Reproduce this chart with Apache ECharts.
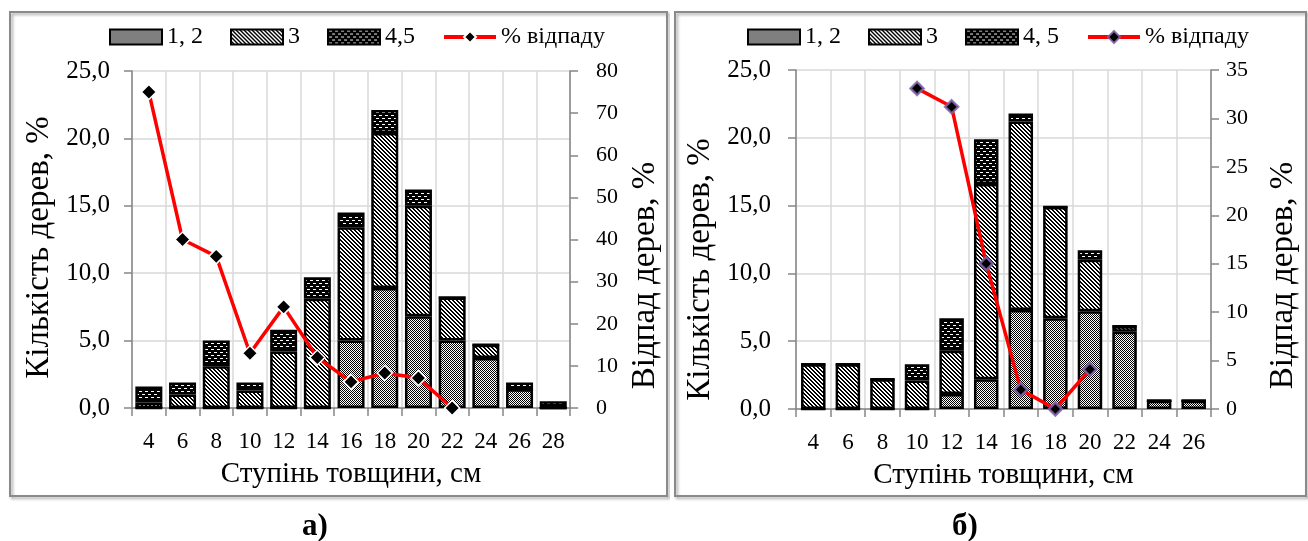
<!DOCTYPE html>
<html>
<head>
<meta charset="utf-8">
<script src="https://cdn.jsdelivr.net/npm/echarts@6/dist/echarts.min.js"></script>
<style>
  html, body { margin: 0; padding: 0; background: #fff; width: 1308px; height: 541px; overflow: hidden; }
  #chartA { position: absolute; left: 0; top: 0; width: 670px; height: 541px; }
  #chartB { position: absolute; left: 670px; top: 0; width: 638px; height: 541px; }
</style>
</head>
<body>
<div id="chartA"></div>
<div id="chartB"></div>
<script>
// а) ступені товщини 4..28
const catsA = ['4', '6', '8', '10', '12', '14', '16', '18', '20', '22', '24', '26', '28'];
const a12 = [0, 0, 0, 0, 0, 0, 5.0, 8.9, 6.8, 5.0, 3.7, 1.4, 0];
const a3 = [0.4, 1.0, 3.1, 1.3, 4.2, 8.1, 8.4, 11.5, 8.2, 3.2, 1.0, 0, 0];
const a45 = [1.2, 0.9, 1.9, 0.6, 1.6, 1.6, 1.1, 1.7, 1.2, 0, 0, 0.5, 0.5];
const aLoss = [75, 40, 36, 13, 24, 12, 6.2, 8.3, 7.1, 0, '-', '-', '-'];

// б) ступені товщини 4..26
const catsB = ['4', '6', '8', '10', '12', '14', '16', '18', '20', '22', '24', '26'];
const b12 = [0, 0, 0, 0, 1.1, 2.2, 7.3, 6.7, 7.2, 5.7, 0.6, 0.6];
const b3 = [3.3, 3.3, 2.2, 2.1, 3.2, 14.4, 13.9, 8.2, 3.8, 0.4, 0, 0];
const b45 = [0, 0, 0, 1.2, 2.4, 3.3, 0.6, 0, 0.7, 0, 0, 0];
const bLoss = ['-', '-', '-', 33.1, 31.2, 15.0, 2.0, 0, 4.1, '-', '-', '-'];

const FONT = '"Liberation Serif", "Times New Roman", serif';

function pattern(w, h, draw) {
  const c = document.createElement('canvas');
  c.width = w;
  c.height = h;
  const g = c.getContext('2d');
  draw(g);
  return {image: c, repeat: 'repeat'};
}
// 1, 2 - дрібна шахівниця
const fill12 = pattern(2, 2, g => {
  g.fillStyle = '#fff'; g.fillRect(0, 0, 2, 2);
  g.fillStyle = '#000'; g.fillRect(0, 0, 1, 1); g.fillRect(1, 1, 1, 1);
});
// 3 - косі лінії
const fill3 = pattern(4, 4, g => {
  g.fillStyle = '#fff'; g.fillRect(0, 0, 4, 4);
  g.fillStyle = '#000';
  for (let i = 0; i < 4; i++) { g.fillRect(i, i, 1, 1); g.fillRect((i + 1) % 4, i, 1, 1); }
});
// 4,5 - чорне з білими штрихами
const fill45 = pattern(6, 6, g => {
  g.fillStyle = '#000'; g.fillRect(0, 0, 6, 6);
  g.fillStyle = '#fff'; g.fillRect(1, 1, 3, 1); g.fillRect(4, 4, 2, 1); g.fillRect(0, 4, 1, 1);
});

function buildChart(id, p) {
  const chart = echarts.init(document.getElementById(id));
  const barBase = {
    type: 'bar',
    stack: 'total',
    barWidth: p.barWidth,
    silent: true,
  };
  const axisLine = {show: true, lineStyle: {color: '#868686', width: 1.5}};
  const axisTick = {show: true, length: 8, lineStyle: {color: '#868686', width: 1.5}};
  const option = {
    animation: false,
    textStyle: {fontFamily: FONT, color: '#000'},
    graphic: [
      {
        type: 'rect', silent: true,
        shape: {x: p.boxX, y: 12, width: p.boxW, height: 484},
        style: {fill: 'none', stroke: '#8a8a8a', lineWidth: 2, shadowColor: 'rgba(0,0,0,0.35)', shadowBlur: 3, shadowOffsetX: 2, shadowOffsetY: 2}
      },
      {
        type: 'text', silent: true, x: p.labelX, y: 527,
        style: {text: p.label, font: 'bold 31px ' + FONT, fill: '#000', align: 'center', verticalAlign: 'middle'}
      }
    ],
    legend: {
      top: 20,
      left: p.legendLeft,
      itemWidth: 52,
      itemHeight: 15,
      itemGap: 27,
      selectedMode: false,
      textStyle: {fontFamily: FONT, fontSize: 24, color: '#000'},
      data: [
        {name: '1, 2', icon: 'rect'},
        {name: '3', icon: 'rect'},
        {name: p.name45, icon: 'rect'},
        {name: '% відпаду', lineStyle: {width: 4}}
      ]
    },
    grid: {left: p.gridLeft, right: p.gridRight, top: p.gridTop, bottom: p.gridBottom},
    xAxis: {
      type: 'category',
      data: p.cats,
      axisLine: axisLine,
      axisTick: axisTick,
      axisLabel: {fontFamily: FONT, fontSize: 23, color: '#000', margin: 22, interval: 0},
      splitLine: {show: true, lineStyle: {color: '#d9d9d9', width: 1.5}},
      name: 'Ступінь товщини, см',
      nameLocation: 'middle',
      nameGap: 52,
      nameTextStyle: {fontFamily: FONT, fontSize: 29, color: '#000'}
    },
    yAxis: [
      {
        type: 'value', min: 0, max: 25, interval: 5,
        axisLine: axisLine,
        axisTick: axisTick,
        axisLabel: {fontFamily: FONT, fontSize: 25, color: '#000', margin: p.leftMargin, formatter: v => v.toFixed(1).replace('.', ',')},
        splitLine: {show: true, lineStyle: {color: '#d9d9d9', width: 1.5}},
        name: 'Кількість дерев, %',
        nameLocation: 'middle',
        nameGap: p.leftNameGap,
        nameTextStyle: {fontFamily: FONT, fontSize: 33, color: '#000', padding: [0, p.leftNameShift, 0, 0]}
      },
      {
        type: 'value', min: 0, max: p.rightMax, interval: p.rightStep,
        axisLine: axisLine,
        axisTick: axisTick,
        axisLabel: {fontFamily: FONT, fontSize: 22, color: '#000', margin: p.rightMargin},
        splitLine: {show: false},
        name: 'Відпад дерев, %',
        nameLocation: 'middle',
        nameGap: p.rightNameGap,
        nameTextStyle: {fontFamily: FONT, fontSize: 33, color: '#000', padding: [0, p.rightNameShift, 0, 0]}
      }
    ],
    series: [
      Object.assign({}, barBase, {
        name: '1, 2', data: p.s12,
        itemStyle: {color: fill12, borderColor: '#000', borderWidth: 2.5}
      }),
      Object.assign({}, barBase, {
        name: '3', data: p.s3,
        itemStyle: {color: fill3, borderColor: '#000', borderWidth: 2.5}
      }),
      Object.assign({}, barBase, {
        name: p.name45, data: p.s45,
        itemStyle: {color: fill45, borderColor: '#000', borderWidth: 2.5}
      }),
      {
        name: '% відпаду',
        type: 'line',
        yAxisIndex: 1,
        data: p.loss,
        silent: true,
        symbol: 'diamond',
        symbolSize: p.symbolSize,
        lineStyle: {color: '#ff0000', width: 3.5},
        itemStyle: {color: '#000', borderColor: p.symbolBorder, borderWidth: p.symbolBorderWidth}
      }
    ]
  };
  chart.setOption(option);
  return chart;
}

buildChart('chartA', {
  cats: catsA, s12: a12, s3: a3, s45: a45, loss: aLoss,
  name45: '4,5', label: 'а)', labelX: 315,
  boxX: 10, boxW: 657,
  legendLeft: 104,
  gridLeft: 132, gridRight: 94, gridTop: 71, gridBottom: 133,
  barWidth: 27,
  rightMax: 80, rightStep: 10,
  leftMargin: 22, rightMargin: 26,
  leftNameGap: 76, leftNameShift: 16,
  rightNameGap: 50, rightNameShift: 72,
  symbolSize: 15, symbolBorder: '#fff', symbolBorderWidth: 1.5
});

buildChart('chartB', {
  cats: catsB, s12: b12, s3: b3, s45: b45, loss: bLoss,
  name45: '4, 5', label: 'б)', labelX: 295,
  boxX: 5, boxW: 631,
  legendLeft: 72,
  gridLeft: 126, gridRight: 91, gridTop: 70, gridBottom: 132,
  barWidth: 24.5,
  rightMax: 35, rightStep: 5,
  leftMargin: 25, rightMargin: 15,
  leftNameGap: 76, leftNameShift: 60,
  rightNameGap: 56, rightNameShift: 72,
  symbolSize: 13, symbolBorder: 'rgba(128,100,170,0.85)', symbolBorderWidth: 2.5
});
</script>
</body>
</html>
